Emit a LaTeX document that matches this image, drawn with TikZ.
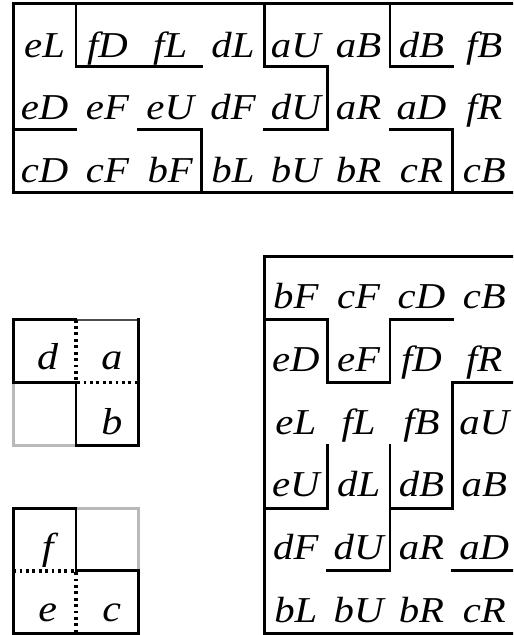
\documentclass[tikz,border=0pt]{standalone}
\usepackage{fontspec}
\setmainfont{Liberation Serif}
\newfontfamily\tabla{Liberation Serif}[FakeStretch=1.12]
\tikzset{
  muro/.style={line width=1.3pt, line cap=rect},
  borde/.style={gray!55, line width=1.3pt},
  tenue/.style={black!70, line width=0.9pt},
  punteado/.style={line width=1.5pt, dash pattern=on 1.3pt off 1.6pt},
  etiqueta/.style={anchor=base, inner sep=0pt, font=\tabla\fontsize{16.5}{19}\selectfont\itshape},
  letra/.style={anchor=base, inner sep=0pt, font=\tabla\fontsize{17}{20}\selectfont\itshape},
}

\begin{document}
\begin{tikzpicture}
  \useasboundingbox (-0.21,-0.02) rectangle (7.96,10.09);
  \clip (-0.21,-0.02) rectangle (7.96,10.09);
  % tablero de arriba
  \begin{scope}[shift={(0,7.03)}]
    \foreach \fila [count=\r from 0] in {{eL,fD,fL,dL,aU,aB,dB,fB},{eD,eF,eU,dF,dU,aR,aD,fR},{cD,cF,bF,bL,bU,bR,cR,cB}}
      \foreach \t [count=\c from 0] in \fila
        \node[etiqueta] (a-\r-\c) at (\c+0.5,2.15-\r) {\t};
    \draw[muro] (0,0) rectangle (8,3);
    \draw[muro] (1,3) -- (1,2) -- (3,2);
    \draw[muro] (4,3) -- (4,2) -- (5,2) -- (5,1) -- (4,1);
    \draw[muro] (6,3) -- (6,2) -- (7,2);
    \draw[muro] (0,1) -- (1,1);
    \draw[muro] (2,1) -- (3,1) -- (3,0);
    \draw[muro] (6,1) -- (7,1) -- (7,0);
  \end{scope}
  % tablero de la derecha
  \begin{scope}[shift={(4,0)}]
    \foreach \fila [count=\r from 0] in {{bF,cF,cD,cB},{eD,eF,fD,fR},{eL,fL,fB,aU},{eU,dL,dB,aB},{dF,dU,aR,aD},{bL,bU,bR,cR}}
      \foreach \t [count=\c from 0] in \fila
        \node[etiqueta] (b-\r-\c) at (\c+0.5,5.18-\r) {\t};
    \draw[muro] (0,0) rectangle (4,6);
    \draw[muro] (0,5) -- (1,5) -- (1,4) -- (2,4) -- (2,5) -- (3,5);
    \draw[muro] (4,4) -- (3,4) -- (3,2) -- (2,2);
    \draw[muro] (2,3) -- (2,1) -- (1,1);
    \draw[muro] (1,3) -- (1,2) -- (0,2);
    \draw[muro] (3,1) -- (4,1);
  \end{scope}
  % cuadro d a b
  \draw[borde] (0,4) -- (0,3) -- (1,3);
  \draw[tenue] (1,5) -- (2,5);
  \draw[muro] (2,5) -- (2,3) -- (1,3) -- (1,4) -- (0,4) -- (0,5) -- (1,5);
  \draw[punteado] (1,5) -- (1,4) -- (2,4);
  \node[letra] (d) at (0.55,4.2) {d};
  \node[letra] (a) at (1.57,4.2) {a};
  \node[letra] (b) at (1.57,3.17) {b};
  % cuadro f e c
  \draw[borde] (1,2) -- (2,2) -- (2,1);
  \draw[muro] (1,1) -- (1,2) -- (0,2) -- (0,0) -- (2,0) -- (2,1) -- (1,1);
  \draw[punteado] (0,1) -- (1,1) -- (1,0);
  \node[letra] (f) at (0.55,1.18) {f};
  \node[letra] (e) at (0.55,0.2) {e};
  \node[letra] (c) at (1.57,0.2) {c};
\end{tikzpicture}
\end{document}
